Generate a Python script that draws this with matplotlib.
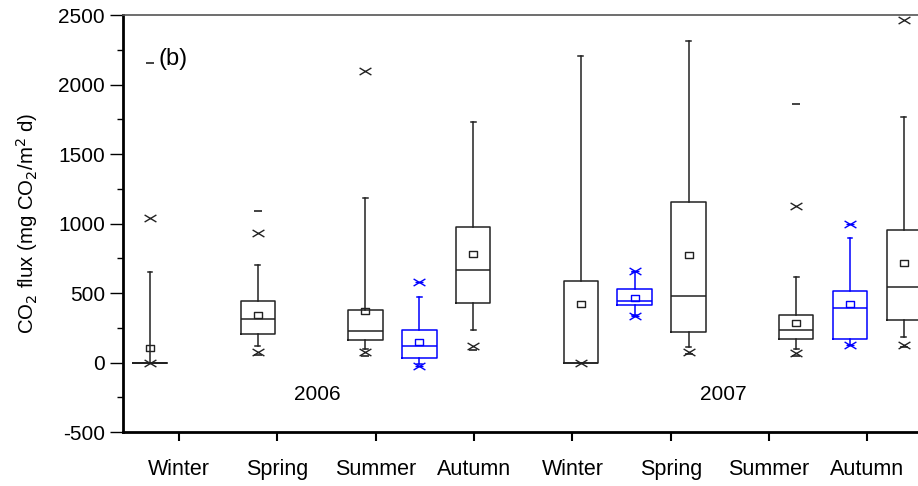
import numpy as np
import matplotlib
matplotlib.use("Agg")
import matplotlib.pyplot as plt
from matplotlib.path import Path

plt.rcParams["font.family"] = ["Liberation Sans", "DejaVu Sans"]
plt.rcParams["axes.unicode_minus"] = False

# seasonal CO2 flux statistics (mg CO2/m2 d)
seasons = ["Winter", "Spring", "Summer", "Autumn", "Winter", "Spring", "Summer", "Autumn"]
years = ["2006", "2007"]

# black series: one box per season, positions 0..7
pos_k = [0, 1, 2, 3, 4, 5, 6, 7]
whislo_k = [0, 116, 100, 234, 0, 114, 100, 181]
q1_k = [0, 205, 160, 428, 0, 217, 169, 306]
med_k = [0, 313, 227, 663, 0, 481, 234, 543]
q3_k = [0, 440, 378, 977, 589, 1152, 340, 955]
whishi_k = [651, 701, 1181, 1728, 2205, 2311, 613, 1764]
mean_k = [102, 344, 368, 780, 421, 776, 286, 716]
p1_k = [0, 75, 75, 121, 0, 78, 70, 126]
p99_k = [1042, 929, 2099, np.nan, np.nan, np.nan, 1128, 2464]
min_k = [np.nan, 54, 47, 88, np.nan, 60, 50, 110]
max_k = [2155, 1092, np.nan, np.nan, np.nan, np.nan, 1857, np.nan]

# blue series
pos_b = [2.5, 4.5, 6.5]
whislo_b = [-10, 340, 126]
q1_b = [35, 411, 169]
med_b = [117, 442, 394]
q3_b = [234, 527, 517]
whishi_b = [469, 650, 896]
mean_b = [150, 462, 423]
p1_b = [-27, 332, 126]
p99_b = [577, 658, 996]

# flattened cross and small rectangle markers
xmark = Path([(-1, -0.6), (1, 0.6), (-1, 0.6), (1, -0.6)],
             [Path.MOVETO, Path.LINETO, Path.MOVETO, Path.LINETO])
rmark = Path([(-1, -0.62), (1, -0.62), (1, 0.62), (-1, 0.62), (-1, -0.62)],
             [Path.MOVETO, Path.LINETO, Path.LINETO, Path.LINETO, Path.CLOSEPOLY])


def make_stats(lo, q1, med, q3, hi, mean):
    return [dict(whislo=a, q1=b, med=c, q3=d, whishi=e, mean=f, fliers=[])
            for a, b, c, d, e, f in zip(lo, q1, med, q3, hi, mean)]


fig = plt.figure(figsize=(9.18, 4.86), dpi=100)
ax = fig.add_axes([0.134, 0.111, 0.866, 0.858])

for pos, stats, col in [
    (pos_k, make_stats(whislo_k, q1_k, med_k, q3_k, whishi_k, mean_k), "#222222"),
    (pos_b, make_stats(whislo_b, q1_b, med_b, q3_b, whishi_b, mean_b), "#0000ff"),
]:
    ax.bxp(stats, positions=pos, widths=0.32, capwidths=0.045, showmeans=True,
           showfliers=False, manage_ticks=False,
           boxprops=dict(color=col, lw=1.1),
           medianprops=dict(color=col, lw=1.1),
           whiskerprops=dict(color=col, lw=1.1),
           capprops=dict(color=col, lw=1.1),
           meanprops=dict(marker=rmark, markerfacecolor="none", markeredgecolor=col,
                          markersize=6, markeredgewidth=1.0))

# 1%/99% percentiles (x) and min/max (-)
ax.plot(pos_k, p1_k, marker=xmark, color="#222222", ms=8.5, mew=1.0, ls="none")
ax.plot(pos_k, p99_k, marker=xmark, color="#222222", ms=8.5, mew=1.0, ls="none")
ax.plot(pos_k, min_k, "_", color="#222222", ms=6, mew=1.2, ls="none")
ax.plot(pos_k, max_k, "_", color="#222222", ms=6, mew=1.2, ls="none")
ax.plot(pos_b, p1_b, marker=xmark, color="#0000ff", ms=8.5, mew=1.0, ls="none")
ax.plot(pos_b, p99_b, marker=xmark, color="#0000ff", ms=8.5, mew=1.0, ls="none")
ax.plot(pos_b, p1_b, "_", color="#0000ff", ms=6, mew=1.0, ls="none")
ax.plot(pos_b, p99_b, "_", color="#0000ff", ms=6, mew=1.0, ls="none")

ax.set_xlim(-0.251, 7.131)
ax.set_ylim(-500, 2500)

ax.set_yticks(np.arange(-500, 2501, 500))
ax.set_yticks(np.arange(-250, 2500, 500), minor=True)
ax.tick_params(axis="y", which="major", length=9.5, width=1.0, pad=3.5, labelsize=15)
ax.tick_params(axis="y", which="minor", length=4.5, width=1.0)

xt = 0.27 + 0.913 * np.arange(len(seasons))
ax.set_xticks(xt)
ax.set_xticklabels(seasons)
ax.tick_params(axis="x", length=6.5, width=1.5, pad=13, labelsize=15.5)

for side in ["left", "bottom"]:
    ax.spines[side].set_linewidth(2.0)
    ax.spines[side].set_color("black")
ax.spines["top"].set_linewidth(1.2)
ax.spines["top"].set_color("#555555")
ax.spines["right"].set_visible(False)

ax.set_ylabel("CO$_2$ flux (mg CO$_2$/m$^2$ d)", fontsize=14.7)
ax.yaxis.set_label_coords(-0.105, 0.5)

ax.text(1.55, -230, years[0], fontsize=15, ha="center", va="center")
ax.text(5.32, -230, years[1], fontsize=15, ha="center", va="center")
ax.text(0.074, 2185, "(b)", fontsize=17, ha="left", va="center")

fig.savefig("out.png", dpi=100)
